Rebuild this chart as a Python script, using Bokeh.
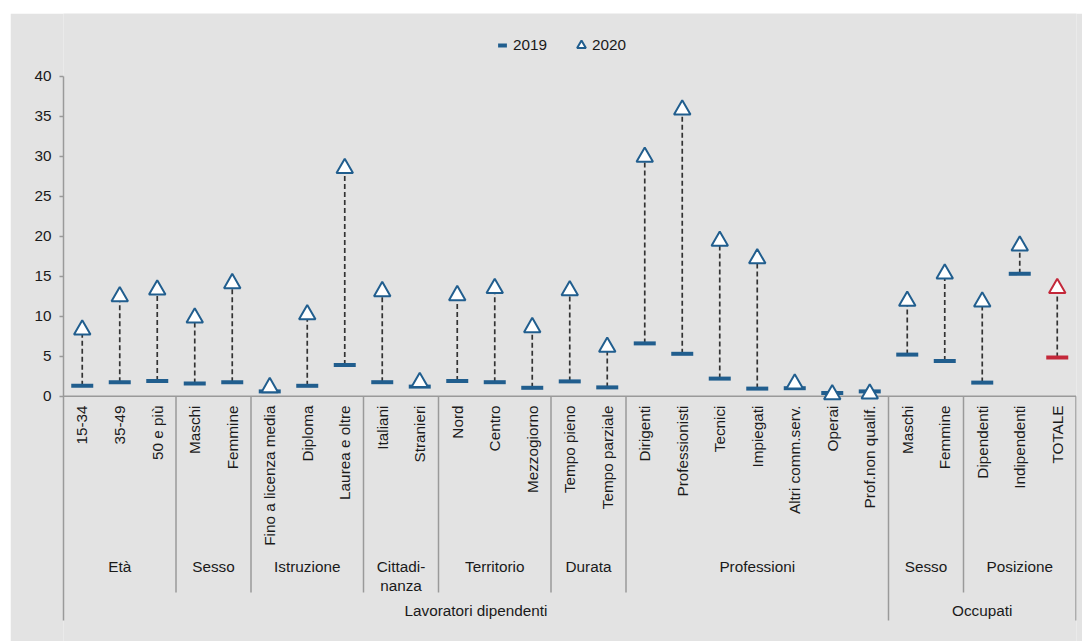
import math
from bokeh.plotting import figure
from bokeh.models import ColumnDataSource, Legend, LegendItem, FixedTicker, Range1d
from bokeh.transform import dodge
from bokeh.core.properties import value
from bokeh.embed import file_html
from bokeh.resources import INLINE

# ---------------- data ----------------
categories = ["15-34", "35-49", "50 e più", "Maschi", "Femmine",
              "Fino a licenza media", "Diploma", "Laurea e oltre",
              "Italiani", "Stranieri", "Nord", "Centro", "Mezzogiorno",
              "Tempo pieno", "Tempo parziale", "Dirigenti", "Professionisti",
              "Tecnici", "Impiegati", "Altri comm.serv.", "Operai",
              "Prof.non qualif.", "Maschi", "Femmine", "Dipendenti",
              "Indipendenti", "TOTALE"]
v2019 = [1.3, 1.75, 1.9, 1.6, 1.75, 0.6, 1.3, 3.9, 1.75, 1.2, 1.9, 1.75, 1.05,
         1.85, 1.1, 6.6, 5.3, 2.2, 0.95, 1.0, 0.4, 0.6, 5.2, 4.4, 1.7, 15.3, 4.85]
v2020 = [8.6, 12.75, 13.6, 10.1, 14.4, 1.4, 10.5, 28.8, 13.4, 2.05, 12.9, 13.8, 8.9,
         13.5, 6.45, 30.2, 36.1, 19.7, 17.5, 1.85, 0.5, 0.6, 12.2, 15.6, 12.1, 19.1, 13.8]
groups = ["Età", "Sesso", "Istruzione", "Cittadi-\nnanza", "Territorio",
          "Durata", "Professioni", "Sesso", "Posizione"]
group_sizes = [3, 2, 3, 2, 3, 2, 7, 2, 3]
sections = ["Lavoratori dipendenti", "Occupati"]
section_sizes = [22, 5]
y_ticks = [0, 5, 10, 15, 20, 25, 30, 35, 40]
series_names = ["2019", "2020"]

# ---------------- styling ----------------
BLUE = "#215e8e"
RED = "#c4283a"
BG = "#e3e3e3"
AXIS = "#9a9a9a"
TXT = "#1a1a1a"
FONT = value("Liberation Sans")
FS = "15.3px"

n = len(categories)
xs = list(range(n))
colors = [RED if c == "TOTALE" else BLUE for c in categories]

src = ColumnDataSource(dict(x=xs, y19=v2019, y20=v2020, color=colors, cat=categories))

PX = 8.0          # pixels per y unit
FRAME_W = 1013
FRAME_H = 628
ZERO_PX = 395.7 - 13  # y pixel of value 0 inside the figure

p = figure(width=1072, height=628, output_backend="svg", toolbar_location=None,
           x_axis_location=None, y_axis_location="left",
           min_border_left=53, min_border_right=6, min_border_top=0, min_border_bottom=0,
           background_fill_color=BG, border_fill_color=BG, outline_line_color=None)
p.margin = (13, 0, 0, 10)
p.x_range = Range1d(-0.5, -0.5 + FRAME_W / 37.5)
p.y_range = Range1d(-(FRAME_H - ZERO_PX) / PX, ZERO_PX / PX)
p.xgrid.visible = False
p.ygrid.visible = False

bottom_full = -(620 - 395.7) / PX
bottom_group = -(592 - 395.7) / PX

ax = p.yaxis[0]
ax.ticker = FixedTicker(ticks=y_ticks)
ax.bounds = (bottom_full, max(y_ticks))
ax.axis_line_color = AXIS
ax.axis_line_width = 1.5
ax.major_tick_line_color = AXIS
ax.major_tick_line_width = 1.5
ax.major_tick_out = 4
ax.major_tick_in = 0
ax.minor_tick_line_color = None
ax.major_label_text_font = "Liberation Sans"
ax.major_label_text_font_size = FS
ax.major_label_text_color = TXT
ax.major_label_standoff = 8

# x axis baseline
p.segment(x0=[-0.5], y0=[0], x1=[n - 0.5], y1=[0], line_color=AXIS, line_width=1.5)

# separators
bounds = []
acc = 0
for s in group_sizes:
    acc += s
    bounds.append(acc - 0.5)
sec_bounds = []
acc = 0
for s in section_sizes:
    acc += s
    sec_bounds.append(acc - 0.5)
inner = [b for b in bounds if b not in sec_bounds]
p.segment(x0=inner, y0=[0] * len(inner), x1=inner, y1=[bottom_group] * len(inner),
          line_color=AXIS, line_width=1.5)
p.segment(x0=sec_bounds, y0=[0] * len(sec_bounds), x1=sec_bounds,
          y1=[bottom_full] * len(sec_bounds), line_color=AXIS, line_width=1.5)

# category labels
lab_y = -(405 - 395.7) / PX
p.text(x=xs, y=[lab_y] * n, text=categories, angle=math.pi / 2,
       text_align="right", text_baseline="middle", text_font=FONT,
       text_font_size=FS, text_color=TXT)

# group labels
gcent = []
acc = 0
for s in group_sizes:
    gcent.append(acc + (s - 1) / 2)
    acc += s
g_y = -(557 - 395.7) / PX
p.text(x=gcent, y=[g_y] * len(groups), text=groups, text_align="center",
       text_baseline="top", text_font=FONT, text_font_size=FS, text_color=TXT,
       text_line_height=1.15)

scent = []
acc = 0
for s in section_sizes:
    scent.append(acc + (s - 1) / 2)
    acc += s
s_y = -(610 - 395.7) / PX
p.text(x=scent, y=[s_y] * len(sections), text=sections, text_align="center",
       text_baseline="middle", text_font=FONT, text_font_size=FS, text_color=TXT)

# dashed connectors
p.segment(x0="x", y0="y19", x1="x", y1="y20", source=src, line_color="#333333",
          line_width=1.7, line_dash="5 3")

# 2019 dash markers
r19 = p.scatter(x="x", y="y19", source=src, marker="dash", size=22, line_width=4,
                line_color="color")
# 2020 triangle markers (centroid shifted so the triangle box is centred on value)
r20 = p.scatter(x="x", y=dodge("y20", -0.3, range=p.y_range), source=src,
                marker="triangle", size=16.5, line_width=2, line_color="color",
                fill_color="white")

legend = Legend(items=[LegendItem(label=series_names[0], renderers=[r19]),
                       LegendItem(label=series_names[1], renderers=[r20])],
                orientation="horizontal", location=(428, 585),
                background_fill_alpha=0, border_line_color=None, padding=0, margin=0,
                spacing=23, label_standoff=0, glyph_width=22, glyph_height=22,
                label_text_font="Liberation Sans", label_text_font_size=FS,
                label_text_color=TXT)
p.add_layout(legend)

open("out.html", "w").write(file_html(p, INLINE))
